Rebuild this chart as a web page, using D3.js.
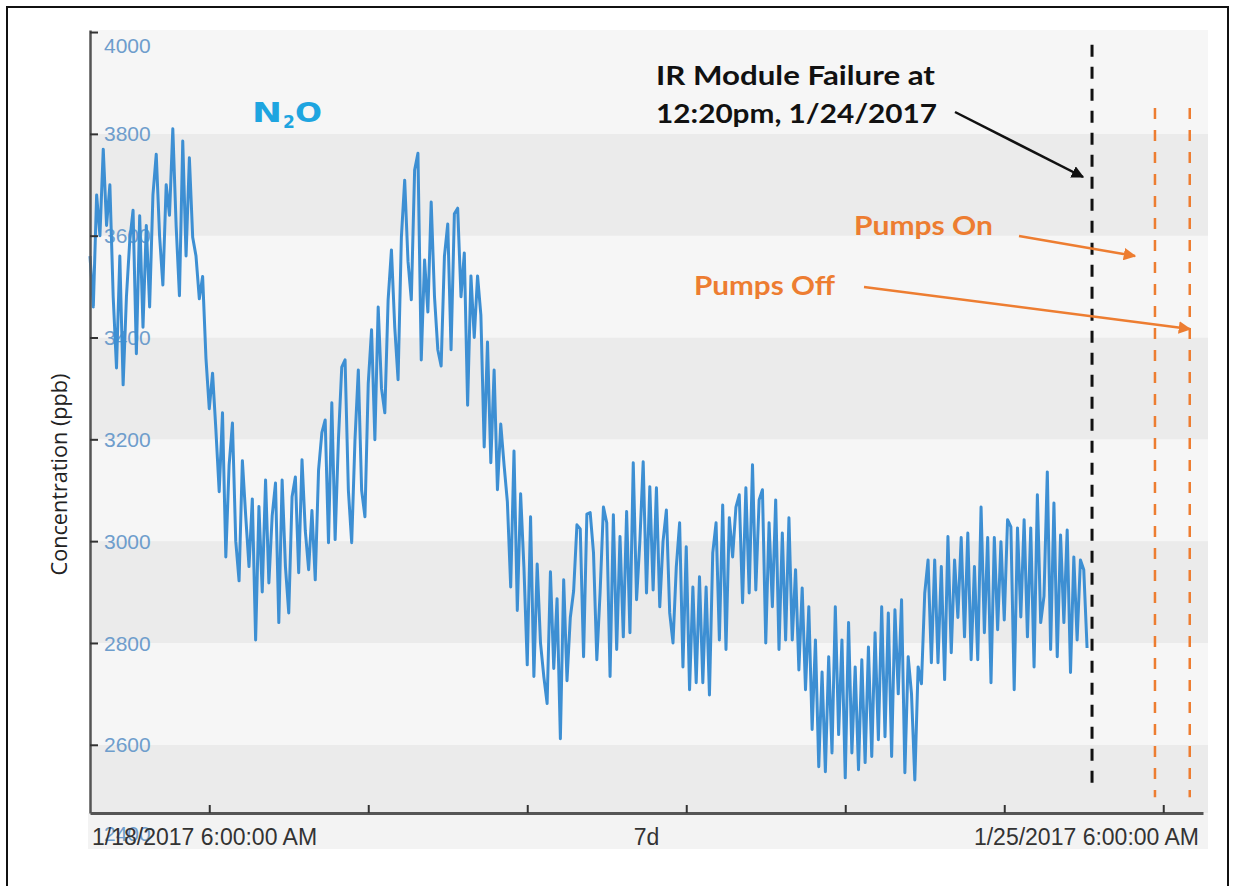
<!DOCTYPE html>
<html>
<head>
<meta charset="utf-8">
<script src="https://cdn.jsdelivr.net/npm/d3@7"></script>
<style>
  html, body { margin: 0; padding: 0; background: #ffffff; }
  svg { display: block; }
</style>
</head>
<body>
<script>
// ---------------- DATA ----------------
// N2O concentration (ppb), one reading every 30 minutes starting 1/18/2017 6:00 AM
const seriesStart = "2017-01-18 06:00";
const stepMinutes = 30;
const n2oValues = [
  3560,3460,3680,3600,3770,3620,3700,3480,3340,3560,
  3307,3480,3590,3650,3368,3639,3420,3620,3460,3680,
  3760,3600,3503,3700,3640,3810,3620,3482,3786,3560,
  3753,3597,3560,3476,3520,3360,3260,3330,3219,3097,
  3252,2969,3150,3232,3000,2922,3158,3050,2950,3083,
  2806,3068,2900,3120,2918,3050,3114,2840,3120,2950,
  2859,3087,3126,2938,3160,3020,2944,3060,2924,3140,
  3213,3238,2997,3272,3003,3200,3342,3356,3100,2997,
  3200,3336,3100,3048,3310,3415,3199,3460,3300,3252,
  3474,3572,3420,3317,3597,3709,3550,3474,3729,3762,
  3356,3552,3450,3666,3480,3376,3344,3560,3623,3376,
  3643,3654,3480,3566,3267,3521,3400,3521,3444,3185,
  3391,3154,3336,3101,3230,3150,3077,2910,3177,2864,
  3093,2948,2757,3048,2734,2955,2800,2734,2681,2940,
  2750,2887,2612,2924,2726,2850,2902,3032,3024,2773,
  3053,3056,2977,2767,2900,3067,3036,2734,3052,2787,
  3009,2812,3058,2820,3154,2885,3000,3156,2898,3107,
  2904,3105,2871,3000,3061,2859,2800,2950,3036,2753,
  2989,2708,2910,2722,2930,2722,2910,2698,2977,3036,
  2806,3071,2787,3046,2969,3067,3091,2879,3105,2898,
  3150,2904,3081,3101,2800,3036,2871,3081,2787,3016,
  2806,3046,2806,2944,2747,2908,2708,2871,2630,2806,
  2557,2743,2547,2773,2584,2871,2620,2806,2535,2840,
  2584,2753,2551,2767,2565,2792,2577,2820,2610,2871,
  2616,2859,2577,2865,2700,2885,2545,2773,2700,2531,
  2753,2720,2898,2963,2761,2963,2761,2950,2728,3009,
  2781,2963,2850,3007,2812,3016,2767,2950,2767,3067,
  2820,3007,2722,3007,2826,2999,2845,3042,3028,2708,
  3026,2851,3042,2812,3026,2753,3091,2840,2892,3136,
  2787,3075,2773,3012,2840,3022,2742,2969,2806,2963,
  2944,2790
];

// axis extents and ticks
const xDomain = ["2017-01-18 06:00", "2017-01-25 06:00"];
const yDomain = [2466, 4004];
const yTicks = [2400, 2600, 2800, 3000, 3200, 3400, 3600, 3800, 4000];

// event markers
const failureEvent = { time: "2017-01-24 13:15", from: 2511, to: 3975 };
const pumpEvents = [
  { name: "Pumps On",  time: "2017-01-24 22:45", from: 2497, to: 3851 },
  { name: "Pumps Off", time: "2017-01-25 04:00", from: 2497, to: 3851 }
];

// text
const seriesLabel = { main: "N", sub: "2", tail: "O" };
const yTitle = "Concentration (ppb)";
const failureText = ["IR Module Failure at", "12:20pm, 1/24/2017"];

// ---------------- CHART ----------------
const W = 1235, H = 886;
const parse = d3.timeParse("%Y-%m-%d %H:%M");
const t0 = parse(seriesStart);
const data = n2oValues.map((v, i) => ({ t: d3.timeMinute.offset(t0, i * stepMinutes), v }));

const plot = { left: 90, right: 1203, top: 30, bottom: 813 };
const x = d3.scaleTime().domain(xDomain.map(parse)).range([plot.left, plot.right]);
const y = d3.scaleLinear().domain(yDomain).range([plot.bottom, plot.top]);

const svg = d3.select("body").append("svg").attr("width", W).attr("height", H);

const defs = svg.append("defs");
function marker(id, color) {
  defs.append("marker").attr("id", id)
    .attr("viewBox", "0 0 10 10").attr("refX", 9).attr("refY", 5)
    .attr("markerWidth", 5).attr("markerHeight", 5).attr("orient", "auto")
    .attr("markerUnits", "strokeWidth")
    .append("path").attr("d", "M0,0 L10,5 L0,10 z").attr("fill", color);
}
marker("arrBlack", "#111");
marker("arrOrange", "#ed7d31");

// outer frame
svg.append("rect").attr("x", 7).attr("y", 7).attr("width", 1221).attr("height", 900)
  .attr("fill", "#fff").attr("stroke", "#111").attr("stroke-width", 2);

// plot background + bands
const bgRight = 1208;
svg.append("rect").attr("x", plot.left).attr("y", plot.top)
  .attr("width", bgRight - plot.left).attr("height", plot.bottom - plot.top)
  .attr("fill", "#f6f6f6");
svg.append("rect").attr("x", plot.left - 2).attr("y", plot.bottom)
  .attr("width", bgRight - plot.left + 2).attr("height", 36)
  .attr("fill", "#f3f3f3");
const bands = d3.pairs(yTicks).map(([a, b], k) => ({ a: Math.max(a, yDomain[0]), b: Math.min(b, yDomain[1]), k }));
svg.append("g").selectAll("rect").data(bands).join("rect")
  .attr("x", plot.left).attr("width", bgRight - plot.left)
  .attr("y", d => y(d.b)).attr("height", d => y(d.a) - y(d.b))
  .attr("fill", d => d.k % 2 === 0 ? "#ebebeb" : "#f6f6f6");

// y tick labels (drawn under the data line)
svg.append("g").selectAll("text").data(yTicks).join("text")
  .attr("x", plot.left + 14)
  .attr("y", d => Math.min(Math.max(y(d), 45), 833))
  .attr("dy", "0.36em")
  .attr("fill", "#6e9dcc")
  .style("font-family", "'Liberation Sans', Arial, sans-serif")
  .style("font-size", "21px")
  .text(d => d);

// data line
const line = d3.line().x(d => x(d.t)).y(d => y(d.v));
svg.append("path").datum(data)
  .attr("d", line).attr("fill", "none")
  .attr("stroke", "#3d8fd3").attr("stroke-width", 3)
  .attr("stroke-linejoin", "round");

// y axis
const yAxis = d3.axisRight(y)
  .tickValues(yTicks.filter(v => v >= yDomain[0] && v <= yDomain[1]))
  .tickSize(8).tickSizeOuter(0).tickFormat("");
const gy = svg.append("g").attr("transform", `translate(${plot.left},0)`).call(yAxis);
gy.select(".domain").attr("stroke", "#555").attr("stroke-width", 2.5);
gy.selectAll(".tick line").attr("stroke", "#333").attr("stroke-width", 2);

// x axis
const xAxis = d3.axisBottom(x).ticks(d3.timeDay.every(1))
  .tickSize(-8).tickSizeOuter(0).tickFormat("");
const gx = svg.append("g").attr("transform", `translate(0,${plot.bottom})`).call(xAxis);
gx.select(".domain").attr("stroke", "#555").attr("stroke-width", 3);
gx.selectAll(".tick line").attr("stroke", "#333").attr("stroke-width", 2);

// x labels: start, span, end
const fmt = d3.timeFormat("%-m/%-d/%Y %-I:%M:%S %p");
const [xs, xe] = x.domain();
const spanDays = Math.round((xe - xs) / 864e5);
const xLabelStyle = sel => sel
  .attr("y", 845).attr("fill", "#333")
  .style("font-family", "'Liberation Sans', Arial, sans-serif")
  .style("font-size", "23px");
svg.append("text").call(xLabelStyle).attr("x", x(xs) + 2).attr("text-anchor", "start").text(fmt(xs));
svg.append("text").call(xLabelStyle).attr("x", (x(xs) + x(xe)) / 2).attr("text-anchor", "middle").text(spanDays + "d");
svg.append("text").call(xLabelStyle).attr("x", x(xe) - 4).attr("text-anchor", "end").text(fmt(xe));

// y title
svg.append("text")
  .attr("transform", `translate(67,${(plot.top + plot.bottom) / 2 + 53}) rotate(-90)`)
  .attr("text-anchor", "middle").attr("fill", "#222")
  .style("font-family", "'Open Sans', 'Segoe UI', sans-serif")
  .style("font-size", "22px")
  .attr("textLength", 202).attr("lengthAdjust", "spacingAndGlyphs")
  .text(yTitle);

// series label N2O
const lab = svg.append("g").attr("fill", "#1ea5e0")
  .style("font-family", "'DejaVu Sans', Verdana, sans-serif").style("font-weight", "bold");
lab.append("text").attr("x", 252).attr("y", 122).style("font-size", "27px")
  .attr("textLength", 30).attr("lengthAdjust", "spacingAndGlyphs").text(seriesLabel.main);
lab.append("text").attr("x", 283).attr("y", 128).style("font-size", "17px").text(seriesLabel.sub);
lab.append("text").attr("x", 295).attr("y", 122).style("font-size", "27px")
  .attr("textLength", 27).attr("lengthAdjust", "spacingAndGlyphs").text(seriesLabel.tail);

// event lines
svg.append("line")
  .attr("x1", x(parse(failureEvent.time))).attr("x2", x(parse(failureEvent.time)))
  .attr("y1", y(failureEvent.to)).attr("y2", y(failureEvent.from))
  .attr("stroke", "#111").attr("stroke-width", 3).attr("stroke-dasharray", "12,10");
svg.append("g").selectAll("line").data(pumpEvents).join("line")
  .attr("x1", d => x(parse(d.time))).attr("x2", d => x(parse(d.time)))
  .attr("y1", d => y(d.to)).attr("y2", d => y(d.from))
  .attr("stroke", "#ed7d31").attr("stroke-width", 2.5).attr("stroke-dasharray", "11,11");

// annotations
const annFont = sel => sel.style("font-family", "Lato, 'Open Sans', sans-serif").style("font-weight", "bold");
svg.append("text").call(annFont).attr("x", 656).attr("y", 85).attr("fill", "#111")
  .style("font-size", "26px").attr("textLength", 279).attr("lengthAdjust", "spacingAndGlyphs").text(failureText[0]);
svg.append("text").call(annFont).attr("x", 656).attr("y", 123).attr("fill", "#111")
  .style("font-size", "26px").attr("textLength", 281).attr("lengthAdjust", "spacingAndGlyphs").text(failureText[1]);
svg.append("text").call(annFont).attr("x", 854).attr("y", 235).attr("fill", "#ed7d31")
  .style("font-size", "26px").attr("textLength", 139).attr("lengthAdjust", "spacingAndGlyphs").text(pumpEvents[0].name);
svg.append("text").call(annFont).attr("x", 694).attr("y", 295).attr("fill", "#ed7d31")
  .style("font-size", "26px").attr("textLength", 141).attr("lengthAdjust", "spacingAndGlyphs").text(pumpEvents[1].name);

// arrows
const arrows = [
  { x1: 955, y1: 112, x2: 1083, y2: 177, c: "#111", m: "arrBlack" },
  { x1: 1019, y1: 236, x2: 1135, y2: 256, c: "#ed7d31", m: "arrOrange" },
  { x1: 864, y1: 287, x2: 1190, y2: 329, c: "#ed7d31", m: "arrOrange" }
];
svg.append("g").selectAll("line").data(arrows).join("line")
  .attr("x1", d => d.x1).attr("y1", d => d.y1).attr("x2", d => d.x2).attr("y2", d => d.y2)
  .attr("stroke", d => d.c).attr("stroke-width", 2.5)
  .attr("marker-end", d => `url(#${d.m})`);
</script>
</body>
</html>
